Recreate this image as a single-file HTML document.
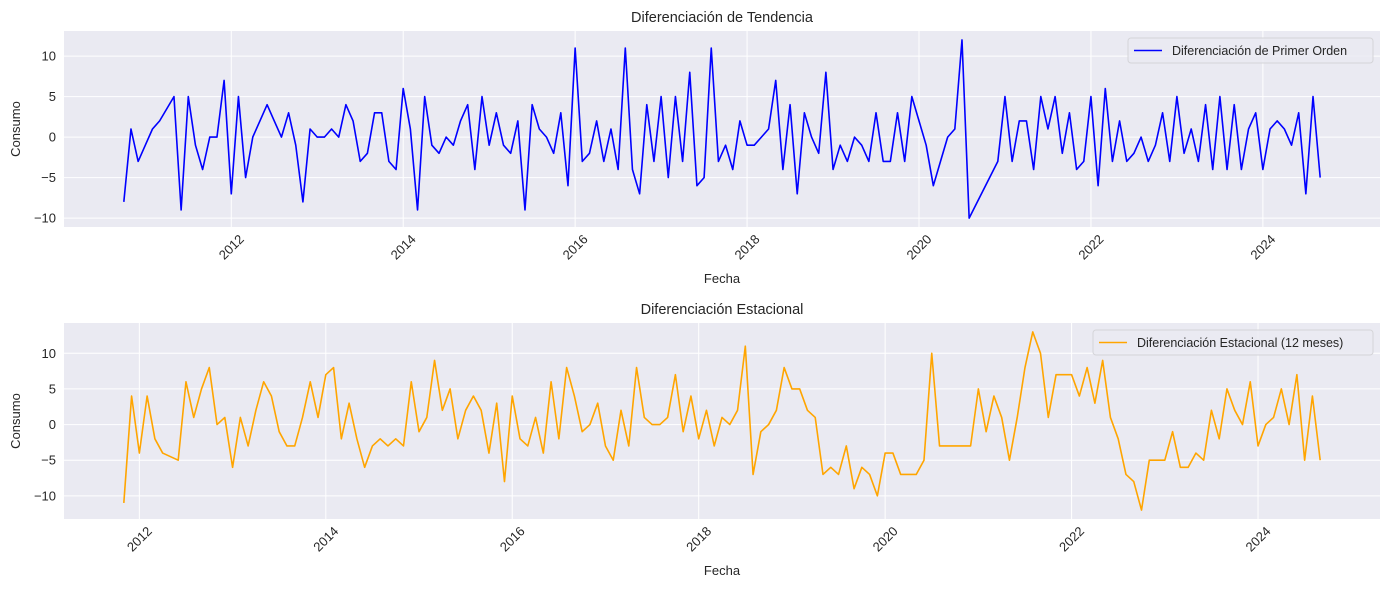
<!DOCTYPE html>
<html><head><meta charset="utf-8"><style>
html,body{margin:0;padding:0;background:#fff;}
svg{display:block;font-family:"Liberation Sans",Arial,sans-serif;}
</style></head><body>
<svg id="fig" width="1389" height="590" viewBox="0 0 1389 590" xmlns="http://www.w3.org/2000/svg">
<g id="top"></g>
<g id="bot"></g>
</svg>
<script>
// Top series: monthly first-order differences starting Oct 2010 (null = missing month)
const trendStart = [2010, 10];
const trendValues = [-8,1,-3,-1,1,2,null,5,-9,5,-1,-4,0,0,7,-7,5,-5,0,2,4,2,0,3,-1,-8,1,0,0,1,0,4,2,-3,-2,3,3,-3,-4,6,1,-9,5,-1,-2,0,-1,2,4,-4,5,-1,3,-1,-2,2,
-9,4,1,0,-2,3,-6,11,-3,-2,2,-3,1,-4,11,-4,-7,4,-3,5,-5,5,-3,8,-6,-5,11,-3,-1,-4,2,-1,-1,0,1,7,-4,4,-7,3,0,-2,8,-4,-1,-3,0,-1,-3,3,-3,-3,3,-3,5,2,-1,-6,-3,0,1,
12,-10,null,null,null,-3,5,-3,2,2,-4,5,1,5,-2,3,-4,-3,5,-6,6,-3,2,-3,-2,0,-3,-1,3,-3,5,-2,1,-3,4,-4,5,-4,4,-4,1,3,-4,1,2,1,-1,3,-7,5,-5];
// Bottom series: 12-month seasonal differences starting Nov 2011
const seasStart = [2011, 11];
const seasValues = [-11,4,-4,4,-2,-4,null,-5,6,1,5,8,0,1,-6,1,-3,2,6,4,-1,-3,-3,1,6,1,7,8,-2,3,-2,-6,-3,-2,-3,-2,-3,6,-1,1,9,2,5,-2,2,4,2,-4,3,-8,4,-2,
-3,1,-4,6,-2,8,4,-1,0,3,-3,-5,2,-3,8,1,0,0,1,7,-1,4,-2,2,-3,1,0,2,11,-7,-1,0,2,8,5,5,2,1,-7,-6,-7,-3,-9,-6,-7,-10,-4,-4,-7,-7,-7,-5,10,-3,
null,null,null,-3,5,-1,4,1,-5,1,8,13,10,1,7,7,7,4,8,3,9,1,-2,-7,-8,-12,-5,-5,-5,-1,-6,-6,-4,-5,2,-2,5,2,0,6,-3,0,1,5,0,7,-5,4,-5];
const xTickYears = [2012,2014,2016,2018,2020,2022,2024];
const trendYTicks = [-10,-5,0,5,10];
const seasYTicks = [-10,-5,0,5,10];

const NS='http://www.w3.org/2000/svg';
function mk(parent,tag,attrs,text){const e=document.createElementNS(NS,tag);for(const k in attrs)e.setAttribute(k,attrs[k]);if(text!==undefined)e.textContent=text;parent.appendChild(e);return e;}

function panel(g,cfg){
  const L=64,R=1380,T=cfg.top,B=cfg.bottom;
  const dates=cfg.values.map((v,i)=>cfg.start[0]+(cfg.start[1]-1+i)/12);
  const valid=cfg.values.filter(v=>v!==null);
  const vmin=Math.min(...valid),vmax=Math.max(...valid);
  const dmin=dates[0],dmax=dates[dates.length-1];
  const xm=(dmax-dmin)*0.05,ym=(vmax-vmin)*0.05;
  const x0=dmin-xm,x1=dmax+xm,y0=vmin-ym,y1=vmax+ym;
  const sx=d=>L+(d-x0)/(x1-x0)*(R-L);
  const sy=v=>B-(v-y0)/(y1-y0)*(B-T);
  const bg=mk(g,'rect',{x:L,y:T,width:R-L,height:B-T,fill:'#EAEAF2'});
  
  
  cfg.yticks.forEach(t=>{
    const y=sy(t);
    const gl=mk(g,'line',{x1:L,x2:R,y1:y,y2:y,stroke:'#fff','stroke-width':1});
    
    
    const tl=mk(g,'text',{x:L-8,y:y+4.5,'text-anchor':'end','font-size':13,fill:'#262626'},String(t).replace('-','\u2212'));
    
    
  });
  xTickYears.forEach(yr=>{
    const x=sx(yr);
    const gl=mk(g,'line',{x1:x,x2:x,y1:T,y2:B,stroke:'#fff','stroke-width':1});
    
    
    const tl=mk(g,'text',{x:0,y:0,'text-anchor':'middle','dominant-baseline':'central','font-size':13,fill:'#262626',transform:`translate(${x},${B+20}) rotate(-45)`},String(yr));
    
    
  });
  let d='';
  cfg.values.forEach((v,i)=>{if(v===null)return;d+=(d?'L':'M')+sx(dates[i]).toFixed(2)+','+sy(v).toFixed(2);});
  const ln=mk(g,'path',{d:d,fill:'none',stroke:cfg.color,'stroke-width':1.6,'stroke-linejoin':'round'});
  
  
  const ti=mk(g,'text',{x:(L+R)/2,y:T-9,'text-anchor':'middle','font-size':14.5,fill:'#262626'},cfg.title);
  
  
  const xl=mk(g,'text',{x:(L+R)/2,y:B+56,'text-anchor':'middle','font-size':13,fill:'#262626'},'Fecha');
  
  
  const yl=mk(g,'text',{x:0,y:0,'text-anchor':'middle','font-size':13,fill:'#262626',transform:`translate(20,${(T+B)/2}) rotate(-90)`},'Consumo');
  
  
  const lg=mk(g,'g',{});
  
  
  const lw=cfg.legendW;
  mk(lg,'rect',{x:R-7-lw,y:T+7,width:lw,height:25,rx:3,fill:'#EAEAF2','fill-opacity':0.85,stroke:'#d4d4d8','stroke-width':1});
  mk(lg,'line',{x1:R-7-lw+6,x2:R-7-lw+34,y1:T+19.5,y2:T+19.5,stroke:cfg.color,'stroke-width':1.6});
  const lt=mk(lg,'text',{x:R-7-lw+44,y:T+24,'font-size':12.5,fill:'#262626'},cfg.legend);
  
  
}
panel(document.getElementById('top'),{top:31,bottom:227,start:trendStart,values:trendValues,yticks:trendYTicks,color:'#0000ff',title:'Diferenciación de Tendencia',legend:'Diferenciación de Primer Orden',legendW:245,lineName:'trend-diff-line'});
panel(document.getElementById('bot'),{top:323,bottom:519,start:seasStart,values:seasValues,yticks:seasYTicks,color:'#FFA500',title:'Diferenciación Estacional',legend:'Diferenciación Estacional (12 meses)',legendW:280,lineName:'seasonal-diff-line'});
</script>
</body></html>
